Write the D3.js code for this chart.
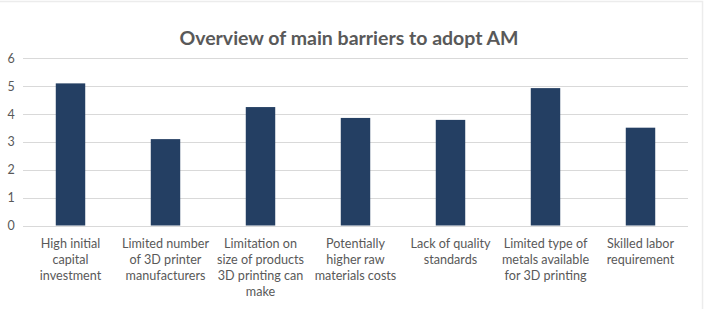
<!DOCTYPE html>
<html>
<head>
<meta charset="utf-8">
<script src="https://cdn.jsdelivr.net/npm/d3@7"></script>
<style>
  html, body { margin: 0; padding: 0; background: #fff; }
  svg { display: block; }
</style>
</head>
<body>
<svg id="chart"></svg>
<script>
  // data ------------------------------------------------------------------
  const categories = [
    "High initial\ncapital\ninvestment",
    "Limited number\nof 3D printer\nmanufacturers",
    "Limitation on\nsize of products\n3D printing can\nmake",
    "Potentially\nhigher raw\nmaterials costs",
    "Lack of quality\nstandards",
    "Limited type of\nmetals available\nfor 3D printing",
    "Skilled labor\nrequirement"
  ];
  const values = [5.1, 3.1, 4.25, 3.86, 3.79, 4.93, 3.51];
  const yTicks = [0, 1, 2, 3, 4, 5, 6];
  const title = "Overview of main barriers to adopt AM";

  const W = 706, H = 309;
  const BAR = "#243f63";
  const GRID = "#d9d9d9";
  const TEXT = "#595959";
  const FONT = "Lato, 'Open Sans', sans-serif";

  const m = { left: 23, right: 18, top: 58.3, bottom: 83.5 };

  const svg = d3.select("#chart").attr("width", W).attr("height", H);

  // faint outer frame (chart area border, cropped)
  svg.append("rect")
    .attr("x", -2).attr("y", 1.5)
    .attr("width", 704.5).attr("height", H + 4)
    .attr("fill", "none")
    .attr("stroke", "#ececec")
    .attr("stroke-width", 1.5);

  const x = d3.scaleBand()
    .domain(categories)
    .range([m.left, W - m.right])
    .paddingInner(0.69)
    .paddingOuter(0.345);

  const y = d3.scaleLinear()
    .domain([0, 6])
    .range([H - m.bottom, m.top]);

  // gridlines
  svg.append("g")
    .selectAll("line")
    .data(yTicks)
    .join("line")
    .attr("x1", m.left).attr("x2", W - m.right)
    .attr("y1", d => Math.round(y(d)) + 0.5)
    .attr("y2", d => Math.round(y(d)) + 0.5)
    .attr("stroke", GRID)
    .attr("stroke-width", 1);

  // y axis labels
  const yAxis = d3.axisLeft(y).tickValues(yTicks).tickFormat(d3.format("d"))
    .tickSize(0).tickPadding(0);
  const ya = svg.append("g")
    .attr("transform", `translate(${m.left - 12},0)`)
    .call(yAxis);
  ya.select(".domain").remove();
  ya.selectAll("text")
    .attr("text-anchor", "middle")
    .attr("fill", TEXT)
    .attr("font-family", FONT)
    .attr("font-size", 12.5);

  // bars
  svg.append("g")
    .selectAll("rect")
    .data(values)
    .join("rect")
    .attr("x", (d, i) => x(categories[i]))
    .attr("width", x.bandwidth())
    .attr("y", d => y(d))
    .attr("height", d => y(0) - y(d))
    .attr("fill", BAR);

  // category labels
  const xa = svg.append("g")
    .attr("transform", `translate(0,${y(0)})`)
    .call(d3.axisBottom(x).tickSize(0).tickFormat(""));
  xa.select(".domain").remove();

  xa.selectAll(".tick").each(function (d) {
    const t = d3.select(this).select("text")
      .attr("fill", TEXT)
      .attr("font-family", FONT)
      .attr("font-size", 12.6)
      .attr("text-anchor", "middle")
      .attr("y", 0).attr("dy", null);
    d.split("\n").forEach((line, k) => {
      t.append("tspan")
        .attr("x", 0)
        .attr("y", 22 + k * 16.3)
        .text(line);
    });
  });

  // title
  svg.append("text")
    .attr("x", 349)
    .attr("y", 45)
    .attr("text-anchor", "middle")
    .attr("fill", TEXT)
    .attr("font-family", FONT)
    .attr("font-weight", "bold")
    .attr("font-size", 19.5)
    .text(title);
</script>
</body>
</html>
